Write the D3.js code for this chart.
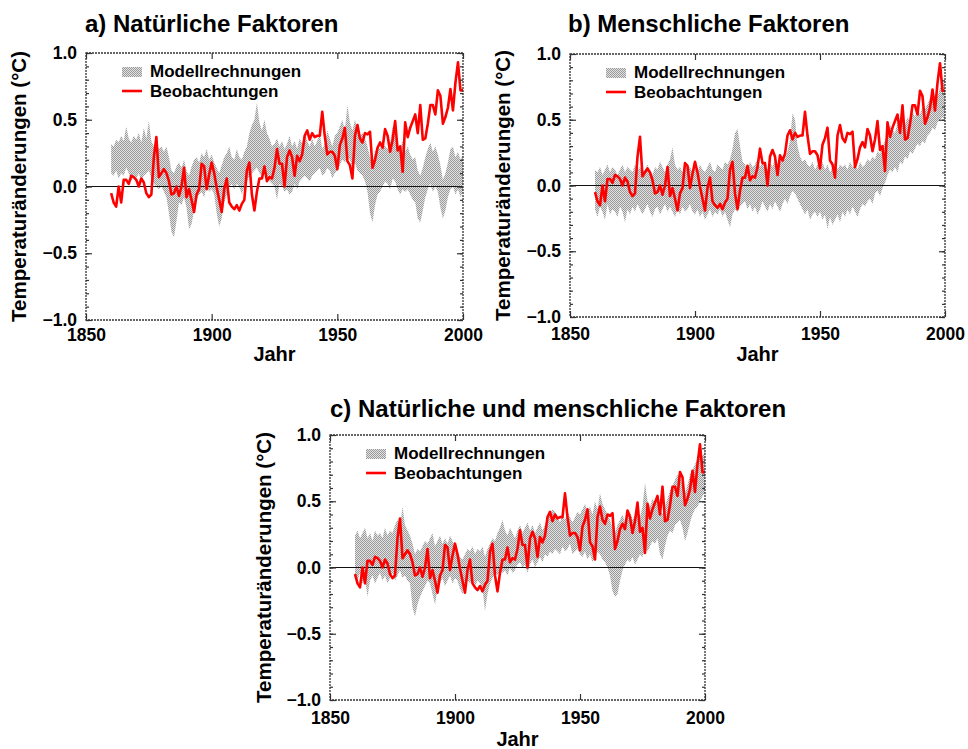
<!DOCTYPE html>
<html><head><meta charset="utf-8">
<script src="https://cdn.jsdelivr.net/npm/d3@7"></script>
<style>
html,body{margin:0;padding:0;background:#fff;}
svg{display:block;}
text{font-family:"Liberation Sans",Arial,Helvetica,sans-serif;fill:#000;}
</style>
</head><body>
<svg id="chart" width="968" height="749"></svg>
<script>
// ---------------- DATA ----------------
const firstYear = 1860, lastYear = 2000;
const years = d3.range(firstYear, lastYear + 1);

// Observed global mean temperature change (°C), 1860–2000
const observed = [
 -0.05,-0.12,-0.15, 0.00,-0.12, 0.05, 0.05, 0.02, 0.08, 0.07,
  0.05, 0.00, 0.06, 0.03,-0.05,-0.08,-0.06, 0.22, 0.37, 0.07,
  0.10, 0.13, 0.10, 0.04,-0.06,-0.05, 0.00,-0.07, 0.00, 0.14,
 -0.08,-0.02,-0.10,-0.19,-0.06,-0.02, 0.17, 0.15,-0.02, 0.09,
  0.18, 0.10,-0.01,-0.10,-0.19,-0.02, 0.06,-0.12,-0.15,-0.17,
 -0.14,-0.18,-0.13,-0.10, 0.12, 0.18,-0.06,-0.18,-0.04, 0.06,
  0.06, 0.15, 0.04, 0.07, 0.06, 0.14, 0.28, 0.17, 0.17, 0.00,
  0.22, 0.27, 0.22, 0.08, 0.23, 0.19, 0.24, 0.38, 0.42, 0.35,
  0.40, 0.37, 0.38, 0.38, 0.56, 0.38, 0.24, 0.26, 0.26, 0.23,
  0.13, 0.31, 0.36, 0.44, 0.19, 0.16, 0.06, 0.38, 0.46, 0.36,
  0.33, 0.40, 0.39, 0.41, 0.14, 0.20, 0.29, 0.33, 0.29, 0.43,
  0.38, 0.26, 0.35, 0.49, 0.27, 0.30, 0.11, 0.48, 0.37, 0.44,
  0.49, 0.54, 0.40, 0.61, 0.35, 0.36, 0.47, 0.61, 0.61, 0.54,
  0.72, 0.68, 0.47, 0.52, 0.59, 0.73, 0.57, 0.78, 0.93, 0.72, 0.72
];

// a) natural forcing — model range
const naturalUpper = [
 0.32,0.30,0.35,0.33,0.38,0.34,0.45,0.36,0.33,0.38,
 0.35,0.40,0.33,0.44,0.36,0.49,0.34,0.30,0.33,0.28,
 0.30,0.26,0.30,0.22,0.12,0.10,0.15,0.18,0.14,0.20,
 0.12,0.08,0.15,0.20,0.22,0.18,0.25,0.22,0.28,0.20,
 0.24,0.18,0.14,0.10,0.16,0.22,0.25,0.30,0.22,0.20,
 0.28,0.22,0.20,0.26,0.30,0.40,0.46,0.50,0.63,0.48,
 0.42,0.50,0.40,0.36,0.30,0.32,0.36,0.30,0.34,0.28,
 0.32,0.38,0.30,0.34,0.28,0.36,0.32,0.40,0.34,0.30,
 0.36,0.30,0.34,0.40,0.28,0.32,0.42,0.36,0.30,0.38,
 0.40,0.45,0.50,0.42,0.61,0.48,0.42,0.50,0.44,0.38,
 0.40,0.36,0.30,0.22,0.18,0.26,0.30,0.28,0.34,0.30,
 0.28,0.32,0.45,0.38,0.30,0.28,0.34,0.26,0.30,0.24,
 0.20,0.22,0.12,0.08,0.14,0.22,0.28,0.33,0.26,0.30,
 0.24,0.16,0.05,0.10,0.18,0.28,0.30,0.22,0.26,0.20,0.24
];
const naturalLower = [
 0.10,0.08,0.12,0.06,0.10,0.08,0.14,0.10,0.04,0.08,
 0.06,0.10,0.04,0.08,0.10,0.12,0.06,0.02,0.00,-0.02,
 0.00,-0.04,-0.08,-0.20,-0.34,-0.38,-0.26,-0.12,-0.14,-0.08,
 -0.16,-0.32,-0.28,-0.18,-0.10,-0.06,-0.04,-0.08,0.00,-0.04,
 -0.02,-0.06,-0.20,-0.30,-0.24,-0.12,-0.06,0.00,0.02,-0.02,
 0.02,0.00,-0.06,0.00,0.04,0.08,0.10,0.12,0.14,0.10,
 0.08,0.12,0.06,0.04,0.02,0.00,-0.10,0.02,0.00,-0.04,
 -0.02,-0.06,-0.04,0.02,-0.02,0.04,0.06,0.08,0.06,0.04,
 0.08,0.10,0.12,0.14,0.08,0.10,0.14,0.12,0.06,0.10,
 0.12,0.16,0.20,0.18,0.22,0.20,0.14,0.18,0.12,0.10,
 0.08,0.04,-0.04,-0.20,-0.27,-0.14,-0.06,-0.04,0.00,0.04,
 0.02,-0.02,0.06,0.04,-0.02,-0.06,-0.02,-0.04,-0.02,-0.06,
 -0.10,-0.12,-0.24,-0.27,-0.18,-0.08,-0.02,0.02,-0.04,0.00,
 -0.04,-0.16,-0.24,-0.18,-0.08,-0.02,0.00,-0.06,-0.02,-0.08,-0.04
];

// b) anthropogenic forcing — model range
const anthroUpper = [
 0.12,0.10,0.14,0.08,0.12,0.16,0.10,0.14,0.12,0.08,
 0.12,0.16,0.10,0.14,0.12,0.10,0.16,0.12,0.14,0.10,
 0.12,0.16,0.10,0.08,0.14,0.12,0.18,0.14,0.10,0.16,
 0.20,0.29,0.16,0.12,0.14,0.10,0.16,0.12,0.14,0.10,
 0.14,0.10,0.16,0.12,0.10,0.14,0.18,0.12,0.10,0.16,
 0.14,0.12,0.18,0.16,0.20,0.28,0.40,0.43,0.30,0.18,
 0.16,0.12,0.18,0.14,0.16,0.20,0.14,0.18,0.16,0.12,
 0.18,0.14,0.20,0.16,0.18,0.22,0.20,0.26,0.34,0.55,
 0.50,0.30,0.22,0.18,0.20,0.16,0.14,0.18,0.12,0.16,
 0.14,0.18,0.12,0.16,0.10,0.14,0.18,0.12,0.16,0.14,
 0.16,0.12,0.18,0.14,0.16,0.12,0.18,0.14,0.16,0.20,
 0.18,0.22,0.20,0.26,0.24,0.30,0.34,0.40,0.46,0.42,
 0.40,0.48,0.44,0.50,0.46,0.52,0.48,0.56,0.52,0.58,
 0.54,0.60,0.58,0.62,0.66,0.64,0.70,0.68,0.74,0.78,0.80
];
const anthroLower = [
 -0.18,-0.24,-0.16,-0.20,-0.26,-0.14,-0.22,-0.18,-0.20,-0.24,
 -0.16,-0.20,-0.28,-0.18,-0.22,-0.16,-0.20,-0.14,-0.18,-0.22,
 -0.18,-0.14,-0.20,-0.24,-0.18,-0.16,-0.22,-0.18,-0.14,-0.20,
 -0.16,-0.20,-0.24,-0.18,-0.22,-0.16,-0.20,-0.18,-0.14,-0.20,
 -0.22,-0.18,-0.24,-0.20,-0.26,-0.22,-0.18,-0.24,-0.20,-0.22,
 -0.18,-0.24,-0.20,-0.26,-0.32,-0.22,-0.18,-0.20,-0.16,-0.14,
 -0.12,-0.18,-0.14,-0.20,-0.16,-0.22,-0.18,-0.12,-0.16,-0.20,
 -0.14,-0.18,-0.12,-0.16,-0.20,-0.14,-0.10,-0.14,-0.08,-0.04,
 -0.06,-0.10,-0.14,-0.18,-0.22,-0.18,-0.26,-0.22,-0.20,-0.24,
 -0.20,-0.26,-0.22,-0.33,-0.24,-0.30,-0.26,-0.22,-0.28,-0.20,
 -0.24,-0.18,-0.22,-0.16,-0.20,-0.24,-0.18,-0.14,-0.16,-0.12,
 -0.10,-0.14,-0.06,-0.04,-0.08,-0.02,0.02,0.08,0.12,0.10,
 0.14,0.10,0.18,0.16,0.22,0.20,0.26,0.24,0.28,0.32,
 0.30,0.34,0.32,0.38,0.40,0.44,0.42,0.48,0.50,0.52,0.50
];

// c) natural + anthropogenic forcing — model range
const combinedUpper = [
 0.24,0.28,0.22,0.26,0.30,0.22,0.26,0.20,0.28,0.24,
 0.26,0.22,0.30,0.24,0.28,0.26,0.32,0.36,0.30,0.46,
 0.32,0.28,0.24,0.18,0.10,0.14,0.12,0.16,0.20,0.18,
 0.22,0.26,0.16,0.20,0.24,0.18,0.22,0.18,0.24,0.20,
 0.16,0.12,0.08,0.06,0.10,0.14,0.12,0.16,0.10,0.14,
 0.12,0.16,0.08,0.14,0.18,0.22,0.20,0.26,0.30,0.36,
 0.28,0.24,0.30,0.26,0.22,0.28,0.32,0.26,0.30,0.34,
 0.28,0.32,0.26,0.30,0.34,0.28,0.32,0.36,0.40,0.44,
 0.42,0.38,0.34,0.40,0.36,0.42,0.38,0.34,0.38,0.42,
 0.40,0.44,0.48,0.42,0.46,0.40,0.50,0.44,0.56,0.48,
 0.44,0.40,0.36,0.30,0.26,0.32,0.36,0.40,0.34,0.38,
 0.42,0.36,0.40,0.44,0.38,0.46,0.64,0.50,0.46,0.52,
 0.48,0.54,0.44,0.40,0.46,0.52,0.58,0.62,0.66,0.70,
 0.68,0.62,0.56,0.62,0.70,0.74,0.78,0.82,0.86,0.84,0.88
];
const combinedLower = [
 -0.06,-0.10,-0.04,-0.12,-0.08,-0.22,-0.10,-0.06,-0.12,-0.08,
 -0.04,-0.10,-0.06,-0.12,-0.08,-0.04,-0.10,-0.06,-0.02,-0.08,
 -0.06,-0.10,-0.12,-0.30,-0.37,-0.28,-0.22,-0.18,-0.14,-0.10,
 -0.12,-0.20,-0.28,-0.16,-0.12,-0.08,-0.14,-0.10,-0.06,-0.12,
 -0.08,-0.10,-0.16,-0.20,-0.14,-0.10,-0.12,-0.08,-0.14,-0.10,
 -0.12,-0.16,-0.33,-0.20,-0.12,-0.08,-0.04,-0.06,-0.02,-0.04,
 -0.02,-0.06,0.00,-0.04,-0.02,0.02,0.04,0.00,0.02,-0.04,
 0.02,0.06,0.00,0.04,0.08,0.04,0.10,0.08,0.12,0.10,
 0.14,0.12,0.10,0.16,0.12,0.14,0.18,0.10,0.12,0.14,
 0.10,0.08,0.12,0.06,0.10,0.04,0.08,0.12,0.10,0.06,
 0.04,0.00,-0.06,-0.18,-0.22,-0.20,-0.10,-0.02,0.02,0.06,
 0.04,0.08,0.02,0.06,0.10,0.08,0.14,0.12,0.16,0.20,
 0.18,0.22,0.10,0.06,0.16,0.24,0.28,0.26,0.32,0.34,
 0.36,0.30,0.20,0.26,0.34,0.40,0.44,0.46,0.50,0.54,0.56
];

const titles = ["a) Natürliche Faktoren", "b) Menschliche Faktoren", "c) Natürliche und menschliche Faktoren"];
const legendLabels = ["Modellrechnungen", "Beobachtungen"];
const xAxisLabel = "Jahr";
const yAxisLabel = "Temperaturänderungen (°C)";
const xDomain = [1850, 2000];
const yDomain = [-1, 1];
const xTicks = [1850, 1900, 1950, 2000];
const yTicks = [-1.0, -0.5, 0.0, 0.5, 1.0];
const yMinorTicks = [-1.0,-0.9,-0.8,-0.7,-0.6,-0.5,-0.4,-0.3,-0.2,-0.1,0.0,0.1,0.2,0.3,0.4,0.5,0.6,0.7,0.8,0.9,1.0];

// ---------------- LAYOUT ----------------
const panels = [
  {title: titles[0], lower: naturalLower, upper: naturalUpper,
   box: {x0: 86, x1: 463, y0: 53, y1: 320}, titleX: 85, titleY: 32,
   yLabelX: 26, xTickY: 341, xLabelY: 361},
  {title: titles[1], lower: anthroLower, upper: anthroUpper,
   box: {x0: 570, x1: 945, y0: 54, y1: 317}, titleX: 568, titleY: 32,
   yLabelX: 510, xTickY: 340, xLabelY: 361},
  {title: titles[2], lower: combinedLower, upper: combinedUpper,
   box: {x0: 330, x1: 705, y0: 435, y1: 700}, titleX: 330, titleY: 417,
   yLabelX: 271, xTickY: 724, xLabelY: 746}
];

const svg = d3.select("#chart");
svg.append("rect").attr("width", 968).attr("height", 749).attr("fill", "#fff");

const defs = svg.append("defs");
const pat = defs.append("pattern").attr("id", "checker")
  .attr("width", 2).attr("height", 2).attr("patternUnits", "userSpaceOnUse");
pat.append("rect").attr("width", 2).attr("height", 2).attr("fill", "#e2e2e2");
pat.append("rect").attr("width", 1).attr("height", 1).attr("fill", "#9a9a9a");
pat.append("rect").attr("x", 1).attr("y", 1).attr("width", 1).attr("height", 1).attr("fill", "#9a9a9a");

const fmt = d => d3.format(".1f")(d);

panels.forEach(p => {
  const g = svg.append("g");
  const x = d3.scaleLinear().domain(xDomain).range([p.box.x0, p.box.x1]);
  const y = d3.scaleLinear().domain(yDomain).range([p.box.y1, p.box.y0]);

  const rows = years.map((yr, i) => ({year: yr, lo: p.lower[i], hi: p.upper[i], obs: observed[i]}));

  // model band
  g.append("path").datum(rows)
    .attr("d", d3.area().x(d => x(d.year)).y0(d => y(d.lo)).y1(d => y(d.hi)))
    .attr("fill", "url(#checker)");

  // zero line
  g.append("line").attr("x1", x(xDomain[0])).attr("x2", x(xDomain[1]))
    .attr("y1", y(0)).attr("y2", y(0)).attr("stroke", "#111").attr("stroke-width", 1.2);

  // observations
  g.append("path").datum(rows)
    .attr("d", d3.line().x(d => x(d.year)).y(d => y(d.obs)))
    .attr("fill", "none").attr("stroke", "#ff0000").attr("stroke-width", 2.6)
    .attr("stroke-linejoin", "round");

  // axes
  const axG = g.append("g").attr("class", "axes");
  axG.append("g").attr("transform", `translate(${p.box.x0},0)`)
    .call(d3.axisLeft(y).tickValues(yTicks).tickFormat(fmt).tickSizeInner(-6).tickSizeOuter(0).tickPadding(9));
  axG.append("g").attr("transform", `translate(${p.box.x0},0)`)
    .call(d3.axisLeft(y).tickValues(yMinorTicks).tickFormat("").tickSizeInner(-3).tickSizeOuter(0));
  axG.append("g").attr("transform", `translate(${p.box.x1},0)`)
    .call(d3.axisRight(y).tickValues(yTicks).tickFormat("").tickSizeInner(-6).tickSizeOuter(0));
  axG.append("g").attr("transform", `translate(${p.box.x1},0)`)
    .call(d3.axisRight(y).tickValues(yMinorTicks).tickFormat("").tickSizeInner(-3).tickSizeOuter(0));
  const bottom = axG.append("g").attr("transform", `translate(0,${p.box.y1})`)
    .call(d3.axisBottom(x).tickValues(xTicks).tickFormat(d3.format("d")).tickSizeInner(-6).tickSizeOuter(0));
  axG.append("g").attr("transform", `translate(0,${p.box.y0})`)
    .call(d3.axisTop(x).tickValues(xTicks).tickFormat("").tickSizeInner(-6).tickSizeOuter(0));
  axG.selectAll(".domain").remove();
  axG.selectAll(".tick line").attr("stroke", "#333").attr("stroke-width", 1.2);
  axG.selectAll(".tick text").attr("font-size", 17.5).attr("font-weight", "bold")
    .attr("font-family", '"Liberation Sans", Arial, sans-serif').attr("fill", "#000");
  bottom.selectAll(".tick text").attr("y", p.xTickY - p.box.y1).attr("dy", 0);

  // frame
  g.append("rect").attr("x", p.box.x0).attr("y", p.box.y0)
    .attr("width", p.box.x1 - p.box.x0).attr("height", p.box.y1 - p.box.y0)
    .attr("fill", "none").attr("stroke", "#333").attr("stroke-width", 1.3)
    .attr("stroke-dasharray", "2,1");

  // title
  g.append("text").attr("x", p.titleX).attr("y", p.titleY)
    .attr("font-size", 24).attr("font-weight", "bold").text(p.title);

  // axis labels
  g.append("text").attr("x", (p.box.x0 + p.box.x1) / 2).attr("y", p.xLabelY)
    .attr("text-anchor", "middle").attr("font-size", 20).attr("font-weight", "bold").text(xAxisLabel);
  g.append("text")
    .attr("transform", `translate(${p.yLabelX},${(p.box.y0 + p.box.y1) / 2}) rotate(-90)`)
    .attr("text-anchor", "middle").attr("font-size", 20.5).attr("font-weight", "bold").text(yAxisLabel);

  // legend
  const lx = p.box.x0 + 36, ly = p.box.y0 + 14;
  g.append("rect").attr("x", lx).attr("y", ly).attr("width", 20).attr("height", 10)
    .attr("fill", "url(#checker)");
  g.append("text").attr("x", lx + 28).attr("y", ly + 10).attr("font-size", 17)
    .attr("font-weight", "bold").text(legendLabels[0]);
  g.append("line").attr("x1", lx).attr("x2", lx + 20).attr("y1", ly + 24).attr("y2", ly + 24)
    .attr("stroke", "#ff0000").attr("stroke-width", 2.6);
  g.append("text").attr("x", lx + 28).attr("y", ly + 30).attr("font-size", 17)
    .attr("font-weight", "bold").text(legendLabels[1]);
});
</script>
</body></html>
